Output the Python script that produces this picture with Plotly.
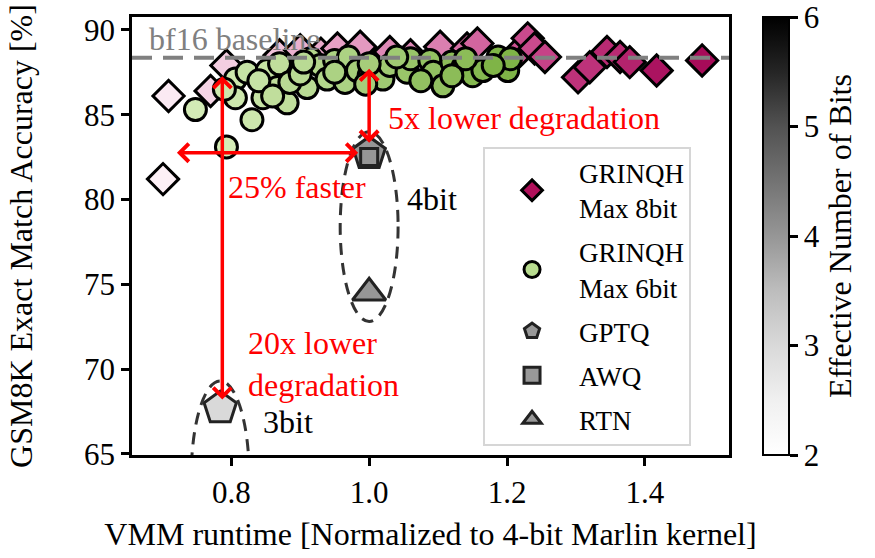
import plotly.graph_objects as go

# ---------------- data ----------------
# GRINQH Max 8bit (diamonds)
g8_runtime = [0.701, 0.709, 0.770, 0.793, 0.870, 0.900, 0.930, 0.954, 0.987, 1.030,
              1.060, 1.103, 1.142, 1.157, 1.215, 1.230, 1.240, 1.255, 1.303, 1.320,
              1.345, 1.364, 1.378, 1.417, 1.483]
g8_acc = [81.2, 86.1, 86.4, 87.9, 88.5, 88.8, 88.6, 88.9, 89.0, 88.7,
          88.5, 89.0, 88.9, 89.2, 88.6, 89.5, 88.9, 88.4, 87.2, 87.8,
          88.7, 88.4, 88.1, 87.6, 88.2]
g8_bits = [3.0, 3.1, 3.5, 3.6, 3.8, 4.0, 4.1, 4.2, 4.3, 4.5,
           4.5, 4.6, 4.8, 4.9, 5.1, 5.2, 5.2, 5.3, 5.5, 5.5,
           5.6, 5.6, 5.7, 5.9, 6.0]

# GRINQH Max 6bit (circles)
g6_runtime = [0.748, 0.793, 0.830, 0.806, 0.806, 0.823, 0.846, 0.852, 0.867, 0.875,
              0.881, 0.896, 0.910, 0.870, 0.885, 0.915, 0.929, 0.939, 0.950, 0.965,
              0.970, 0.983, 1.000, 1.020, 1.030, 1.055, 1.060, 1.088, 1.093, 1.107,
              1.120, 1.136, 1.150, 1.165, 1.187, 1.201, 1.205, 0.840, 0.860, 0.900,
              0.790, 0.905, 0.950, 1.000, 1.040, 1.075, 1.120, 1.180, 0.995, 1.140]
g6_acc = [85.3, 83.1, 84.7, 87.1, 86.0, 87.5, 86.0, 87.6, 86.6, 85.9,
          85.7, 87.5, 86.6, 88.0, 86.9, 88.3, 87.9, 87.1, 88.2, 86.9,
          88.4, 87.6, 87.3, 87.1, 87.9, 87.5, 88.3, 88.2, 87.5, 86.7,
          88.1, 87.8, 87.3, 87.6, 88.4, 87.6, 88.3, 87.0, 86.1, 87.4,
          86.5, 88.1, 87.5, 88.0, 88.4, 87.0, 87.3, 87.9, 86.8, 88.3]
g6_bits = [4.0, 4.0, 4.1, 4.1, 4.1, 4.2, 4.2, 4.2, 4.3, 4.3,
           4.3, 4.4, 4.4, 4.3, 4.4, 4.5, 4.5, 4.5, 4.6, 4.6,
           4.6, 4.7, 4.7, 4.8, 4.8, 4.9, 4.9, 5.0, 5.0, 5.0,
           5.1, 5.1, 5.2, 5.2, 5.3, 5.3, 5.3, 4.2, 4.3, 4.4,
           4.1, 4.4, 4.6, 4.7, 4.8, 5.0, 5.1, 5.3, 4.7, 5.1]

# baselines
gptq_runtime = [0.784, 1.0]
gptq_acc = [67.7, 82.7]
gptq_bits = [3, 4]
awq_runtime = [1.0]
awq_acc = [82.5]
awq_bits = [4]
rtn_runtime = [1.0]
rtn_acc = [74.5]
rtn_bits = [4]

bf16_acc = 88.35

x_ticks = [0.8, 1.0, 1.2, 1.4]
y_ticks = [65, 70, 75, 80, 85, 90]
cbar_ticks = [2, 3, 4, 5, 6]

# ---------------- style ----------------
FONT = "Liberation Serif"
FS = 31        # tick labels
FS_T = 32      # axis / colorbar titles and annotations
FS_L = 27      # legend
greys = [[0.0, "#ffffff"], [0.125, "#f0f0f0"], [0.25, "#d9d9d9"], [0.375, "#bdbdbd"],
         [0.5, "#969696"], [0.625, "#737373"], [0.75, "#525252"], [0.875, "#252525"],
         [1.0, "#000000"]]
pinks = [[0.0, "#fdf0f6"], [0.25, "#f1c6dc"], [0.5, "#de88b6"], [0.75, "#c8468a"],
         [1.0, "#a70b59"]]
greens = [[0.0, "#d3ebb6"], [1.0, "#7fb447"]]

fig = go.Figure()

fig.add_trace(go.Scatter(
    x=g8_runtime, y=g8_acc, mode="markers", showlegend=False,
    marker=dict(symbol="diamond", size=24, color=g8_bits, colorscale=pinks,
                cmin=3, cmax=6, line=dict(color="black", width=3))))
fig.add_trace(go.Scatter(
    x=g6_runtime, y=g6_acc, mode="markers", showlegend=False,
    marker=dict(symbol="circle", size=22, color=g6_bits, colorscale=greens,
                cmin=4, cmax=5.3, line=dict(color="black", width=3))))
fig.add_trace(go.Scatter(
    x=gptq_runtime, y=gptq_acc, mode="markers", showlegend=False,
    marker=dict(symbol="pentagon", size=34, color=gptq_bits, colorscale=greys,
                cmin=2, cmax=6, line=dict(color="#222222", width=3),
                showscale=True,
                colorbar=dict(x=1.057, xanchor="left", xpad=0, y=0.5, yanchor="middle",
                              len=1, lenmode="fraction", thickness=26, ypad=0,
                              outlinecolor="black", outlinewidth=2,
                              tickvals=cbar_ticks, ticks="outside", ticklen=8,
                              tickwidth=2.5, tickcolor="black",
                              ticklabeloverflow="allow",
                              tickfont=dict(family=FONT, size=FS, color="black"),
                              title=dict(text="Effective Number of Bits", side="right",
                                         font=dict(family=FONT, size=FS_T, color="black"))))))
fig.add_trace(go.Scatter(
    x=awq_runtime, y=awq_acc, mode="markers", showlegend=False,
    marker=dict(symbol="square", size=17, color=awq_bits, colorscale=greys,
                cmin=2, cmax=6, line=dict(color="#222222", width=3))))
fig.add_trace(go.Scatter(
    x=rtn_runtime, y=rtn_acc, mode="markers", showlegend=False,
    marker=dict(symbol="triangle-up", size=29, color=rtn_bits, colorscale=greys,
                cmin=2, cmax=6, line=dict(color="#222222", width=3))))

# legend entries
legend_items = [
    ("GRINQH<br>Max 8bit", "diamond", "#b0105a", "black"),
    ("GRINQH<br>Max 6bit", "circle", "#b8dc8f", "black"),
    ("GPTQ", "pentagon", "#999999", "#222222"),
    ("AWQ", "square", "#999999", "#222222"),
    ("RTN", "triangle-up", "#999999", "#222222"),
]
for i, (name, sym, col, lc) in enumerate(legend_items):
    fig.add_trace(go.Scatter(
        x=[None], y=[None], mode="markers", name=name, legendgroup=f"g{i}",
        marker=dict(symbol=sym, size=16, color=col, line=dict(color=lc, width=3))))

# baseline
fig.add_shape(type="line", xref="paper", x0=0, x1=1, yref="y", y0=bf16_acc, y1=bf16_acc,
              line=dict(color="#808080", width=4, dash="20px,11px"), layer="above")
# ellipses
fig.add_shape(type="circle", xref="x", yref="y", x0=0.958, x1=1.042, y0=72.8, y1=84.0,
              line=dict(color="#333333", width=3, dash="12px,8px"), layer="above")
fig.add_shape(type="circle", xref="x", yref="y", x0=0.742, x1=0.826, y0=58.1, y1=69.3,
              line=dict(color="#333333", width=3, dash="12px,8px"), layer="above")

RED = "#ff0000"
arrow_common = dict(text="", showarrow=True, axref="x", ayref="y", xref="x", yref="y",
                    arrowside="end+start", arrowhead=4, startarrowhead=4,
                    arrowsize=1, startarrowsize=1, arrowwidth=3.5, arrowcolor=RED)
fig.add_annotation(x=0.984, y=82.76, ax=0.719, ay=82.76, **arrow_common)
fig.add_annotation(x=0.787, y=68.2, ax=0.787, ay=87.35, **arrow_common)
fig.add_annotation(x=1.0, y=83.35, ax=1.0, ay=87.8, **arrow_common)

def txt(x, y, s, color, xanchor="left"):
    fig.add_annotation(x=x, y=y, xref="x", yref="y", text=s, showarrow=False,
                       xanchor=xanchor, yanchor="middle", align="left",
                       font=dict(family=FONT, size=FS_T, color=color))

txt(0.678, 89.45, "bf16 baseline", "#808080")
txt(1.025, 84.8, "5x lower degradation", RED)
txt(0.793, 80.76, "25% faster", RED)
txt(1.052, 80.0, "4bit", "black")
txt(0.822, 70.3, "20x lower<br>degradation", RED)
txt(0.843, 66.9, "3bit", "black")

axis_common = dict(showline=True, linecolor="black", linewidth=2.5, mirror=True,
                   ticks="outside", ticklen=8, tickwidth=2.5, tickcolor="black",
                   showgrid=False, zeroline=False,
                   tickfont=dict(family=FONT, size=FS, color="black"))
fig.update_xaxes(range=[0.656, 1.522], tickvals=x_ticks, ticktext=[f"{v:.1f}" for v in x_ticks],
                 title=dict(text="VMM runtime [Normalized to 4-bit Marlin kernel]",
                            font=dict(family=FONT, size=FS_T, color="black"), standoff=14),
                 **axis_common)
fig.update_yaxes(range=[64.93, 90.76], tickvals=y_ticks,
                 title=dict(text="GSM8K Exact Match Accuracy [%]",
                            font=dict(family=FONT, size=FS_T, color="black"), standoff=42),
                 **axis_common)

fig.update_layout(
    width=875, height=558,
    margin=dict(l=132, r=146, t=17, b=99),
    plot_bgcolor="white", paper_bgcolor="white",
    font=dict(family=FONT, size=FS, color="black"),
    legend=dict(x=0.588, y=0.704, xanchor="left", yanchor="top",
                bgcolor="white", bordercolor="#d6d6d6", borderwidth=2,
                font=dict(family=FONT, size=FS_L, color="black"),
                traceorder="grouped",
                itemsizing="trace", itemwidth=84, tracegroupgap=6),
)

# remove the page's default 8px body margin so the figure sits at the window's corner
fig.write_html("out.html",
               config={"displayModeBar": False},
               post_script="document.body.style.margin='0px';"
                           "document.documentElement.style.overflow='hidden';")
